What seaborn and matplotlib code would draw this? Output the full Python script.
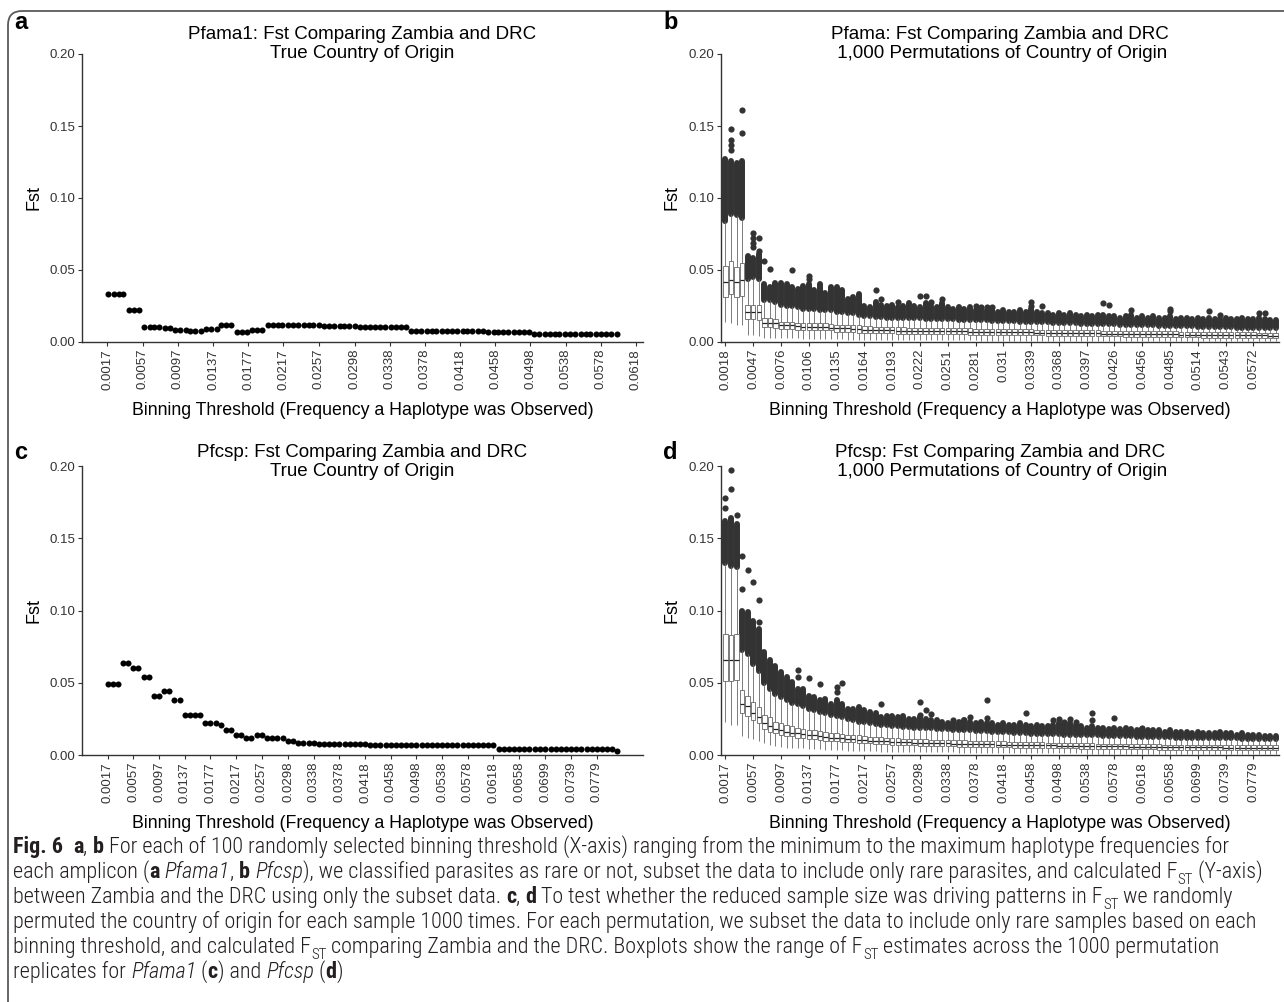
import numpy as np
import pandas as pd
import matplotlib
matplotlib.use("Agg")
import matplotlib.pyplot as plt
import seaborn as sns
from matplotlib import font_manager as fm
from matplotlib.patches import FancyBboxPatch
from matplotlib.transforms import IdentityTransform

# ---------------- data ----------------
pfama1_thresholds = [
    0.0018, 0.0024, 0.0030, 0.0035, 0.0041, 0.0047, 0.0053, 0.0059, 0.0065, 0.0070,
    0.0076, 0.0082, 0.0088, 0.0094, 0.0100, 0.0106, 0.0111, 0.0117, 0.0123, 0.0129,
    0.0135, 0.0141, 0.0146, 0.0152, 0.0158, 0.0164, 0.0170, 0.0176, 0.0181, 0.0187,
    0.0193, 0.0199, 0.0205, 0.0211, 0.0216, 0.0222, 0.0228, 0.0234, 0.0240, 0.0246,
    0.0251, 0.0257, 0.0263, 0.0269, 0.0275, 0.0281, 0.0286, 0.0292, 0.0298, 0.0304,
    0.0310, 0.0316, 0.0321, 0.0327, 0.0333, 0.0339, 0.0345, 0.0351, 0.0356, 0.0362,
    0.0368, 0.0374, 0.0380, 0.0386, 0.0391, 0.0397, 0.0403, 0.0409, 0.0415, 0.0421,
    0.0426, 0.0432, 0.0438, 0.0444, 0.0450, 0.0456, 0.0461, 0.0467, 0.0473, 0.0479,
    0.0485, 0.0491, 0.0496, 0.0502, 0.0508, 0.0514, 0.0520, 0.0526, 0.0531, 0.0537,
    0.0543, 0.0549, 0.0555, 0.0561, 0.0566, 0.0572, 0.0578, 0.0584, 0.0590, 0.0596]

pfcsp_thresholds = [
    0.0017, 0.0025, 0.0033, 0.0041, 0.0049, 0.0057, 0.0065, 0.0073, 0.0081, 0.0089,
    0.0097, 0.0105, 0.0113, 0.0121, 0.0129, 0.0137, 0.0145, 0.0153, 0.0161, 0.0169,
    0.0177, 0.0185, 0.0193, 0.0201, 0.0209, 0.0217, 0.0225, 0.0233, 0.0241, 0.0249,
    0.0257, 0.0265, 0.0273, 0.0281, 0.0290, 0.0298, 0.0306, 0.0314, 0.0322, 0.0330,
    0.0338, 0.0346, 0.0354, 0.0362, 0.0370, 0.0378, 0.0386, 0.0394, 0.0402, 0.0410,
    0.0418, 0.0426, 0.0434, 0.0442, 0.0450, 0.0458, 0.0466, 0.0474, 0.0482, 0.0490,
    0.0498, 0.0506, 0.0514, 0.0522, 0.0530, 0.0538, 0.0546, 0.0554, 0.0562, 0.0570,
    0.0578, 0.0586, 0.0594, 0.0602, 0.0610, 0.0618, 0.0626, 0.0634, 0.0642, 0.0650,
    0.0658, 0.0666, 0.0674, 0.0683, 0.0691, 0.0699, 0.0707, 0.0715, 0.0723, 0.0731,
    0.0739, 0.0747, 0.0755, 0.0763, 0.0771, 0.0779, 0.0787, 0.0795, 0.0803, 0.0811]

# panel a: true Fst, Pfama1
pfama1_true_fst = [
    0.033, 0.033, 0.033, 0.033, 0.022, 0.022, 0.022, 0.0105, 0.0105, 0.0103,
    0.0102, 0.0100, 0.0100, 0.0085, 0.0085, 0.0085, 0.0077, 0.0077, 0.0077, 0.0090,
    0.0090, 0.0090, 0.0118, 0.0118, 0.0118, 0.0067, 0.0067, 0.0067, 0.0082, 0.0082,
    0.0082, 0.0115, 0.0115, 0.0115, 0.0115, 0.0115, 0.0115, 0.0115, 0.0115, 0.0115,
    0.0115, 0.0115, 0.0111, 0.0111, 0.0111, 0.0111, 0.0111, 0.0111, 0.0111, 0.0106,
    0.0106, 0.0106, 0.0106, 0.0106, 0.0106, 0.0106, 0.0106, 0.0106, 0.0106, 0.0079,
    0.0079, 0.0079, 0.0079, 0.0079, 0.0079, 0.0079, 0.0079, 0.0079, 0.0073, 0.0073,
    0.0073, 0.0073, 0.0073, 0.0073, 0.0066, 0.0066, 0.0066, 0.0066, 0.0066, 0.0066,
    0.0066, 0.0066, 0.0066, 0.0059, 0.0059, 0.0059, 0.0059, 0.0059, 0.0059, 0.0059,
    0.0059, 0.0059, 0.0059, 0.0059, 0.0059, 0.0059, 0.0059, 0.0059, 0.0059, 0.0059]

# panel c: true Fst, Pfcsp
pfcsp_true_fst = [
    0.049, 0.049, 0.049, 0.064, 0.064, 0.060, 0.060, 0.054, 0.054, 0.041,
    0.041, 0.044, 0.044, 0.038, 0.038, 0.028, 0.028, 0.028, 0.028, 0.022,
    0.022, 0.022, 0.021, 0.017, 0.017, 0.014, 0.014, 0.012, 0.012, 0.0135,
    0.0135, 0.012, 0.012, 0.012, 0.012, 0.010, 0.010, 0.0083, 0.0083, 0.0083,
    0.0083, 0.0073, 0.0073, 0.0073, 0.0073, 0.0073, 0.0073, 0.0073, 0.0073, 0.0078,
    0.0078, 0.0068, 0.0068, 0.0068, 0.0068, 0.0068, 0.0068, 0.0068, 0.0068, 0.0068,
    0.0068, 0.0068, 0.0068, 0.0068, 0.0068, 0.0068, 0.0068, 0.0068, 0.0068, 0.0068,
    0.0068, 0.0068, 0.0068, 0.0068, 0.0068, 0.0068, 0.0042, 0.0042, 0.0042, 0.0042,
    0.0042, 0.0042, 0.0042, 0.0042, 0.0042, 0.0042, 0.0042, 0.0042, 0.0042, 0.0042,
    0.0042, 0.0042, 0.0042, 0.0042, 0.0042, 0.0042, 0.0042, 0.0042, 0.0042, 0.0030]

# panel b: permutation boxplots, Pfama1 (box summary per threshold)
b_whislo = [
    .014, .013, .012, .0115, .005, .005, .004, .003, .003, .003,
    .0025, .0025, .0025, .0025, .002, .002, .002, .002, .002, .002,
    .0018, .0018, .0017, .0017, .0016, .0016, .0015, .0015, .0015, .0014,
    .0014, .0014, .0013, .0013, .0013, .0013, .0012, .0012, .0012, .0012,
    .0012, .0011, .0011, .0011, .0011, .0011, .001, .001, .001, .001,
    .001, .001, .001, .001, .0009, .0009, .0009, .0009, .0009, .0009,
    .0009, .0009, .0009, .0008, .0008, .0008, .0008, .0008, .0008, .0008,
    .0008, .0008, .0008, .0008, .0007, .0007, .0007, .0007, .0007, .0007,
    .0007, .0007, .0007, .0007, .0007, .0006, .0006, .0006, .0006, .0006,
    .0006, .0006, .0006, .0006, .0006, .0006, .0006, .0005, .0005, .0005]
b_q1 = [
    .031, .033, .031, .032, .016, .016, .0155, .0105, .0105, .010,
    .009, .009, .009, .0085, .008, .008, .008, .008, .008, .008,
    .007, .007, .007, .007, .0065, .0065, .0065, .006, .006, .006,
    .006, .0058, .0058, .0058, .0057, .0057, .0056, .0056, .0055, .0055,
    .0054, .0054, .0053, .0053, .0052, .0052, .0051, .0051, .005, .005,
    .0049, .0049, .0048, .0048, .0047, .0047, .0046, .0046, .0045, .0045,
    .0044, .0044, .0043, .0043, .0042, .0042, .0041, .0041, .004, .004,
    .0039, .0039, .0038, .0038, .0037, .0037, .0036, .0036, .0035, .0035,
    .0034, .0034, .0033, .0033, .0032, .0032, .0031, .0031, .003, .003,
    .003, .003, .0029, .0029, .0029, .0029, .0028, .0028, .0028, .0028]
b_med = [
    .042, .043, .0415, .043, .021, .021, .0205, .0135, .0135, .013,
    .0115, .0115, .0115, .011, .0105, .0105, .0105, .0105, .0105, .010,
    .0095, .0095, .0095, .009, .009, .0085, .0085, .0082, .0082, .008,
    .008, .0079, .0079, .0078, .0078, .0077, .0077, .0076, .0076, .0075,
    .0075, .0074, .0073, .0073, .0072, .0072, .0071, .0071, .007, .007,
    .0069, .0068, .0068, .0067, .0066, .0066, .0065, .0065, .0064, .0064,
    .0063, .0063, .0062, .0062, .0061, .0061, .006, .006, .0059, .0059,
    .0058, .0058, .0057, .0057, .0056, .0056, .0055, .0055, .0054, .0054,
    .0053, .0053, .0052, .0052, .0051, .0051, .005, .005, .0049, .0049,
    .0048, .0048, .0047, .0047, .0047, .0046, .0046, .0046, .0045, .0045]
b_q3 = [
    .053, .056, .052, .055, .026, .026, .0255, .0165, .0165, .016,
    .014, .014, .014, .0135, .013, .013, .013, .013, .013, .0125,
    .012, .012, .012, .0115, .0115, .011, .011, .0105, .0105, .0105,
    .0102, .0102, .0102, .010, .010, .010, .0099, .0099, .0098, .0098,
    .0097, .0096, .0095, .0095, .0094, .0093, .0093, .0092, .0092, .0091,
    .009, .009, .0089, .0088, .0088, .0087, .0086, .0086, .0085, .0084,
    .0084, .0083, .0083, .0082, .0082, .0081, .008, .008, .0079, .0079,
    .0078, .0078, .0077, .0077, .0076, .0076, .0075, .0075, .0074, .0074,
    .0073, .0073, .0072, .0072, .0071, .0071, .007, .007, .0069, .0069,
    .0068, .0068, .0067, .0067, .0066, .0066, .0065, .0065, .0065, .0064]
b_whishi = [
    .084, .089, .088, .086, .044, .045, .044, .029, .029, .028,
    .026, .025, .025, .024, .023, .023, .023, .022, .022, .022,
    .021, .021, .020, .020, .019, .018, .018, .0175, .0175, .017,
    .017, .017, .0168, .0168, .0165, .0165, .0163, .0163, .016, .016,
    .016, .0158, .0156, .0155, .0154, .0152, .015, .015, .0148, .0147,
    .0146, .0145, .0143, .0142, .014, .014, .0138, .0137, .0136, .0135,
    .0133, .0132, .013, .0129, .0128, .0127, .0126, .0125, .0124, .0123,
    .0122, .0121, .012, .0119, .0118, .0117, .0116, .0115, .0114, .0113,
    .0112, .0111, .011, .0109, .0108, .0107, .0106, .0105, .0104, .0103,
    .0102, .0101, .010, .010, .0099, .0098, .0098, .0097, .0097, .0096]
b_dense_top = [
    .127, .126, .124, .126, .060, .058, .061, .040, .038, .041,
    .041, .040, .038, .037, .039, .040, .036, .040, .034, .038,
    .038, .036, .030, .031, .033, .025, .024, .028, .026, .025,
    .026, .024, .025, .027, .025, .024, .027, .025, .024, .027,
    .024, .023, .024, .023, .024, .022, .023, .022, .022, .021,
    .022, .021, .021, .022, .021, .023, .021, .020, .020, .019,
    .020, .019, .020, .019, .018, .019, .018, .019, .019, .018,
    .018, .017, .018, .019, .017, .018, .017, .018, .017, .017,
    .018, .016, .017, .017, .016, .017, .016, .017, .016, .016,
    .017, .016, .016, .017, .016, .016, .017, .016, .015, .015]
b_out_idx = [1, 1, 1, 1, 3, 3, 5, 5, 5, 5, 6, 6, 7, 8, 12, 15, 15, 27, 28, 31,
             35, 36, 37, 39, 45, 46, 47, 48, 55, 55, 57, 68, 69, 73, 80, 80, 87, 89, 96, 97]
b_out_val = [.148, .140, .137, .133, .161, .145, .076, .072, .069, .066, .0725, .063, .056, .051,
             .050, .046, .0436, .0358, .030, .028, .0317, .0317, .028, .030, .025, .0245, .0245,
             .024, .0275, .025, .025, .027, .0257, .0225, .023, .0218, .0218, .0188, .020, .020]

# panel d: permutation boxplots, Pfcsp
d_whislo = [
    .023, .021, .021, .013, .012, .011, .010, .008, .007, .006,
    .0055, .005, .005, .0045, .0045, .004, .004, .004, .0038, .0036,
    .0034, .0032, .003, .003, .0028, .0027, .0026, .0025, .0024, .0023,
    .0022, .0022, .0021, .0021, .002, .002, .002, .0019, .0019, .0019,
    .0018, .0018, .0017, .0017, .0017, .0016, .0016, .0016, .0015, .0015,
    .0015, .0014, .0014, .0014, .0013, .0013, .0013, .0012, .0012, .0012,
    .0012, .0011, .0011, .0011, .0011, .001, .001, .001, .001, .001,
    .001, .0009, .0009, .0009, .0009, .0009, .0009, .0009, .0008, .0008,
    .0008, .0008, .0008, .0008, .0008, .0008, .0008, .0007, .0007, .0007,
    .0007, .0007, .0007, .0007, .0007, .0007, .0007, .0007, .0007, .0007]
d_q1 = [
    .051, .051, .052, .029, .027, .024, .022, .018, .016, .015,
    .014, .013, .013, .012, .012, .011, .011, .0105, .010, .0098,
    .0095, .0092, .009, .0088, .0085, .0082, .008, .0078, .0076, .0074,
    .0072, .007, .0068, .0067, .0066, .0065, .0064, .0063, .0062, .0061,
    .006, .0059, .0058, .0058, .0057, .0056, .0055, .0055, .0054, .0053,
    .0052, .0052, .0051, .005, .005, .0049, .0048, .0048, .0047, .0047,
    .0046, .0046, .0045, .0045, .0044, .0044, .0043, .0043, .0042, .0042,
    .0041, .0041, .004, .004, .004, .0039, .0039, .0039, .0038, .0038,
    .0038, .0037, .0037, .0037, .0036, .0036, .0036, .0035, .0035, .0035,
    .0035, .0034, .0034, .0034, .0034, .0034, .0033, .0033, .0033, .0033]
d_med = [
    .0655, .0655, .066, .035, .034, .029, .026, .022, .020, .018,
    .017, .016, .0155, .015, .0145, .014, .0135, .013, .0125, .012,
    .0118, .0115, .011, .0108, .0105, .0103, .010, .0098, .0096, .0094,
    .0092, .009, .0088, .0087, .0086, .0085, .0084, .0083, .0082, .0081,
    .008, .0079, .0078, .0077, .0076, .0075, .0075, .0074, .0073, .0072,
    .0072, .0071, .007, .007, .0069, .0068, .0068, .0067, .0066, .0066,
    .0065, .0065, .0064, .0063, .0063, .0062, .0062, .0061, .0061, .006,
    .006, .0059, .0059, .0058, .0058, .0057, .0057, .0056, .0056, .0055,
    .0055, .0055, .0054, .0054, .0053, .0053, .0053, .0052, .0052, .0052,
    .0051, .0051, .0051, .0051, .005, .005, .005, .005, .005, .005]
d_q3 = [
    .084, .083, .084, .045, .041, .037, .033, .028, .026, .023,
    .022, .021, .020, .019, .018, .0175, .017, .0165, .016, .0155,
    .015, .0145, .014, .0138, .0135, .013, .0128, .0125, .0123, .012,
    .0118, .0116, .0114, .0112, .011, .0109, .0108, .0107, .0106, .0105,
    .0104, .0103, .0102, .0101, .010, .0099, .0098, .0097, .0096, .0095,
    .0094, .0093, .0092, .0091, .009, .0089, .0088, .0087, .0086, .0086,
    .0085, .0084, .0083, .0082, .0082, .0081, .008, .0079, .0079, .0078,
    .0077, .0077, .0076, .0076, .0075, .0074, .0074, .0073, .0073, .0072,
    .0072, .0071, .0071, .0071, .007, .007, .007, .0069, .0069, .0069,
    .0069, .0068, .0068, .0068, .0068, .0068, .0068, .0068, .0068, .0068]
d_whishi = [
    .133, .131, .130, .073, .070, .063, .058, .050, .046, .042,
    .040, .038, .036, .035, .034, .032, .031, .030, .029, .028,
    .027, .026, .025, .024, .023, .0225, .022, .0215, .021, .0205,
    .020, .0198, .0195, .0192, .019, .0188, .0186, .0184, .0182, .018,
    .0178, .0176, .0174, .0172, .017, .0168, .0166, .0164, .0162, .016,
    .0158, .0156, .0154, .0152, .015, .0148, .0146, .0145, .0144, .0143,
    .0142, .0141, .014, .0139, .0138, .0137, .0136, .0135, .0134, .0133,
    .0132, .0131, .013, .0129, .0128, .0127, .0126, .0125, .0124, .0123,
    .0122, .0121, .012, .012, .0119, .0118, .0118, .0117, .0117, .0116,
    .0116, .0115, .0115, .0114, .0114, .0113, .0113, .0112, .0112, .0112]
d_dense_top = [
    .162, .164, .160, .100, .099, .093, .087, .071, .0655, .0616,
    .0575, .054, .0506, .046, .046, .041, .040, .038, .039, .0356,
    .038, .0356, .032, .032, .033, .031, .030, .029, .026, .027,
    .027, .026, .027, .025, .025, .026, .025, .024, .024, .023,
    .022, .022, .023, .024, .023, .022, .023, .022, .022, .021,
    .022, .021, .021, .022, .021, .020, .021, .020, .020, .021,
    .022, .021, .022, .021, .020, .019, .020, .019, .019, .018,
    .019, .018, .019, .018, .017, .018, .017, .017, .017, .016,
    .017, .016, .016, .016, .015, .016, .015, .015, .015, .016,
    .015, .015, .014, .015, .014, .014, .014, .013, .013, .013]
d_out_idx = [0, 0, 1, 1, 2, 3, 3, 4, 5, 6, 6, 13, 13, 15, 17, 20, 20, 21, 28, 35,
             35, 36, 37, 41, 43, 44, 47, 47, 54, 59, 60, 61, 62, 63, 66, 66, 70, 75]
d_out_val = [.178, .171, .197, .184, .166, .1375, .115, .128, .120, .107, .092, .0586, .054,
             .053, .049, .047, .0437, .050, .0354, .037, .0277, .0308, .0285, .0243, .0243,
             .0266, .038, .0255, .029, .024, .025, .023, .025, .023, .029, .0245, .0255, .019]

# tick labels
a_tick_labels = ["0.0017", "0.0057", "0.0097", "0.0137", "0.0177", "0.0217", "0.0257", "0.0298",
                 "0.0338", "0.0378", "0.0418", "0.0458", "0.0498", "0.0538", "0.0578", "0.0618"]
c_tick_labels = a_tick_labels + ["0.0658", "0.0699", "0.0739", "0.0779"]
b_tick_labels = ["0.0018", "0.0047", "0.0076", "0.0106", "0.0135", "0.0164", "0.0193", "0.0222",
                 "0.0251", "0.0281", "0.031", "0.0339", "0.0368", "0.0397", "0.0426", "0.0456",
                 "0.0485", "0.0514", "0.0543", "0.0572"]
d_tick_labels = c_tick_labels
y_tick_labels = ["0.00", "0.05", "0.10", "0.15", "0.20"]

titles = {
    "a": "Pfama1: Fst Comparing Zambia and DRC\nTrue Country of Origin",
    "b": "Pfama: Fst Comparing Zambia and DRC\n 1,000 Permutations of Country of Origin",
    "c": "Pfcsp: Fst Comparing Zambia and DRC\nTrue Country of Origin",
    "d": "Pfcsp: Fst Comparing Zambia and DRC\n 1,000 Permutations of Country of Origin",
}
x_title = "Binning Threshold (Frequency a Haplotype was Observed)"
y_title = "Fst"

# ---------------- style ----------------
sns.set_theme(style="ticks")
plt.rcParams["font.family"] = ["Liberation Sans", "DejaVu Sans"]

W, H = 1284, 1002
fig = plt.figure(figsize=(W / 100, H / 100), dpi=100)
fig.patch.set_facecolor("white")

AX_COL = "#333333"


def px_axes(l, r, t, b):
    return fig.add_axes([l / W, 1 - b / H, (r - l) / W, (b - t) / H])


def style_axes(ax, key, height_px, title_off):
    for s in ["top", "right"]:
        ax.spines[s].set_visible(False)
    for s in ["left", "bottom"]:
        ax.spines[s].set_color(AX_COL)
        ax.spines[s].set_linewidth(1.0)
    ax.set_ylim(0, 0.2)
    ax.set_yticks([float(t) for t in y_tick_labels])
    ax.set_yticklabels(y_tick_labels)
    ax.tick_params(axis="both", length=3, width=0.8, color=AX_COL,
                   labelsize=9.5, labelcolor="#333333", pad=2)
    ax.tick_params(axis="x", labelrotation=90)
    ax.set_facecolor("white")
    ax.grid(False)
    ax.set_xlabel(x_title, fontsize=12.8, color="black")
    ax.set_ylabel(y_title, fontsize=13, color="black")
    ax.xaxis.set_label_coords(0.5, -60 / height_px)
    ax.text(0.5, 1 + title_off / height_px, titles[key], transform=ax.transAxes,
            ha="center", va="center", fontsize=13.5, linespacing=1.1, color="black")


def scatter_panel(ax, x, y, ticks, xlim):
    sns.scatterplot(x=x, y=y, ax=ax, color="black", s=19, linewidth=0, legend=False)
    ax.set_xlim(*xlim)
    ax.set_xticks([float(t) for t in ticks])
    ax.set_xticklabels(ticks)


def box_panel(ax, whislo, q1, med, q3, whishi, dense_top, out_idx, out_val, ticks):
    n = len(q1)
    rows = []
    for i in range(n):
        for v in (whislo[i], q1[i], med[i], q3[i], whishi[i]):
            rows.append((i, v))
    df = pd.DataFrame(rows, columns=["threshold", "fst"])
    # dense mass of overlapping outliers above the upper whisker
    ax.vlines(list(range(n)), whishi, dense_top, colors="#333333", linewidth=4.3,
              capstyle="round", zorder=0.8)
    sns.scatterplot(x=out_idx, y=out_val, ax=ax, color="#333333", s=20, linewidth=0,
                    legend=False, zorder=0.9)
    sns.boxplot(data=df, x="threshold", y="fst", order=list(range(n)), ax=ax,
                whis=(0, 100), width=0.8, color="white", linecolor="#666666",
                linewidth=0.6, fliersize=0, showcaps=False,
                medianprops=dict(color="#222222", linewidth=0.9))
    ax.set_xlim(-0.8, n - 0.4)
    ax.set_xticks(list(range(0, n, 5)))
    ax.set_xticklabels(ticks)


# panel positions (pixels: left, right, top, bottom)
ax_a = px_axes(82, 643, 54, 342)
ax_b = px_axes(721, 1279, 54, 342)
ax_c = px_axes(82, 643, 466, 755)
ax_d = px_axes(721, 1279, 466, 755)

scatter_panel(ax_a, pfama1_thresholds, pfama1_true_fst, a_tick_labels, (-0.0012, 0.0626))
scatter_panel(ax_c, pfcsp_thresholds, pfcsp_true_fst, c_tick_labels, (-0.0023, 0.0851))
box_panel(ax_b, b_whislo, b_q1, b_med, b_q3, b_whishi, b_dense_top, b_out_idx, b_out_val, b_tick_labels)
box_panel(ax_d, d_whislo, d_q1, d_med, d_q3, d_whishi, d_dense_top, d_out_idx, d_out_val, d_tick_labels)

for ax, key, hpx, ylab_x, toff in [(ax_a, "a", 288, 42, 10), (ax_b, "b", 288, 680, 10),
                                    (ax_c, "c", 289, 42, 4), (ax_d, "d", 289, 680, 4)]:
    style_axes(ax, key, hpx, toff)
    bb = ax.get_position()
    left_px = bb.x0 * W
    width_px = bb.width * W
    ax.yaxis.set_label_coords((ylab_x - left_px) / width_px, 0.5)

# panel letters
for letter, x, y in [("a", 14, 29), ("b", 663, 29), ("c", 14, 459), ("d", 663, 459)]:
    fig.text(x / W, 1 - y / H, letter, fontsize=17, fontweight="bold", va="baseline",
             ha="left", color="black")

# frame
frame = FancyBboxPatch((8, -30), 1320, H - 11 + 30, boxstyle="round,pad=0,rounding_size=14",
                       transform=IdentityTransform(), fill=False, ec="#5a5a5a", lw=1.3)
fig.add_artist(frame)

# ---------------- caption ----------------
names = {f.name: f for f in fm.fontManager.ttflist}
cap_family, cap_stretch = "Liberation Sans", "normal"
for cand in ["Liberation Sans Narrow", "Roboto Condensed", "Open Sans Condensed",
             "Noto Sans Condensed"]:
    if cand in names:
        cap_family, cap_stretch = cand, "normal"
        break
else:
    for f in fm.fontManager.ttflist:
        if f.name in ("DejaVu Sans", "Noto Sans", "Open Sans") and f.stretch == "condensed":
            cap_family, cap_stretch = f.name, "condensed"
            break

has_light = any(f.name == cap_family and f.weight in (300, "light")
                for f in fm.fontManager.ttflist)
normal_weight = "light" if has_light else "normal"

N, B, I, S = "n", "b", "i", "s"
caption = [
    [("Fig. 6", B), ("  ", N), ("a", B), (", ", N), ("b", B),
     (" For each of 100 randomly selected binning threshold (X-axis) ranging from the minimum to the maximum haplotype frequencies for", N)],
    [("each amplicon (", N), ("a", B), (" ", N), ("Pfama1", I), (", ", N), ("b", B), (" ", N), ("Pfcsp", I),
     ("), we classified parasites as rare or not, subset the data to include only rare parasites, and calculated F", N),
     ("ST", S), (" (Y-axis)", N)],
    [("between Zambia and the DRC using only the subset data. ", N), ("c", B), (", ", N), ("d", B),
     (" To test whether the reduced sample size was driving patterns in F", N), ("ST", S), (" we randomly", N)],
    [("permuted the country of origin for each sample 1000 times. For each permutation, we subset the data to include only rare samples based on each", N)],
    [("binning threshold, and calculated F", N), ("ST", S),
     (" comparing Zambia and the DRC. Boxplots show the range of F", N), ("ST", S),
     (" estimates across the 1000 permutation", N)],
    [("replicates for ", N), ("Pfama1", I), (" (", N), ("c", B), (") and ", N), ("Pfcsp", I),
     (" (", N), ("d", B), (")", N)],
]

renderer = fig.canvas.get_renderer()


def run_props(style, size):
    kw = dict(family=cap_family, stretch=cap_stretch, size=size, weight=normal_weight)
    if style == B:
        kw["weight"] = "bold"
    if style == I:
        kw["style"] = "italic"
    if style == S:
        kw["size"] = size * 0.68
    return fm.FontProperties(**kw)


def advance(text, prop):
    w1, _, _ = renderer.get_text_width_height_descent("|" + text + "|", prop, ismath=False)
    w0, _, _ = renderer.get_text_width_height_descent("||", prop, ismath=False)
    return w1 - w0


def line_width(runs, size):
    return sum(advance(t, run_props(s, size)) for t, s in runs)


base = 10.0
x0 = 13
widest = max(line_width(r, base) for r in caption)
size = base * ((1264 - x0) / widest)
baselines = [853, 878, 903, 928, 953, 978]
for runs, yb in zip(caption, baselines):
    x = x0
    for t, s in runs:
        prop = run_props(s, size)
        dy = 0.28 * size * 100 / 72 if s == S else 0
        fig.text(x / W, 1 - (yb + dy) / H, t, fontproperties=prop, ha="left",
                 va="baseline", color="#231f20")
        x += advance(t, prop)

fig.savefig("out.png", dpi=100, facecolor="white")
